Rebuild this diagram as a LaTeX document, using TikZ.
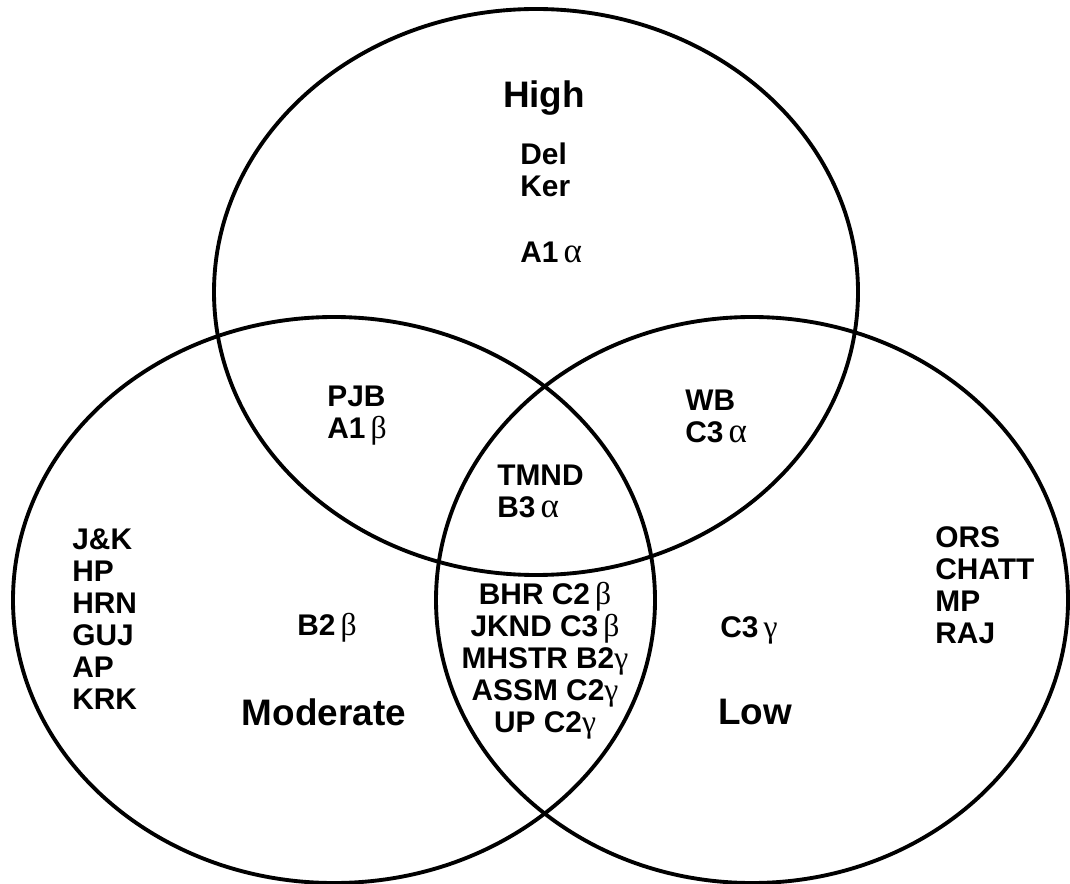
\documentclass[tikz,border=0pt]{standalone}
\usepackage{fontspec}
\setmainfont{Liberation Sans}
\newfontfamily\grkfont{Liberation Serif}
\usetikzlibrary{positioning}
\newcommand{\galpha}{\,{\grkfont\mdseries\fontsize{20}{18.2}\selectfont α}}
\newcommand{\gbeta}{\,{\grkfont\mdseries\fontsize{18}{18.2}\selectfont β}}
\newcommand{\ggamma}{{\grkfont\mdseries\fontsize{18}{18.2}\selectfont γ}}

\begin{document}
\begin{tikzpicture}[
  x=0.02cm, y=-0.02cm,
  set/.style={draw, line width=2.2pt},
  lbl/.style={font=\fontsize{17}{18.2}\selectfont\bfseries, align=left,
              inner sep=0pt, anchor=west},
  head/.style={font=\fontsize{21}{24}\selectfont\bfseries, inner sep=0pt}]

  \useasboundingbox (0,0) rectangle (1070,884);

  % the three sets
  \draw[set] (536,292) ellipse [x radius=322, y radius=283];
  \draw[set] (334,600) ellipse [x radius=321, y radius=283];
  \draw[set] (752,600) ellipse [x radius=316, y radius=283];

  % high only
  \node[head] (high) at (544,98) {High};
  \node[lbl] (delker) at (520,170) {Del\\Ker};
  \node[lbl] (aone) at (520,252) {A1\galpha};

  % pairs
  \node[lbl] (pjb) at (327,416) {PJB\\A1\gbeta};
  \node[lbl] (wb) at (685,416) {WB\\C3\galpha};
  \node[lbl] (tmnd) at (497,491) {TMND\\B3\galpha};
  \node[lbl, anchor=center, align=center] (lens) at (545,661)
    {BHR C2\gbeta\\JKND C3\gbeta\\MHSTR B2\ggamma\\ASSM C2\ggamma\\UP C2\ggamma};

  % moderate only
  \node[lbl] (states) at (72,619) {J\&K\\HP\\HRN\\GUJ\\AP\\KRK};
  \node[lbl] (btwo) at (297,628) {B2\gbeta};
  \node[head] (moderate) at (324,712) {Moderate};

  % low only
  \node[lbl] (cthree) at (720,630) {C3\,\ggamma};
  \node[head] (low) at (755,712) {Low};
  \node[lbl] (ors) at (935,585) {ORS\\CHATT\\MP\\RAJ};
\end{tikzpicture}
\end{document}
